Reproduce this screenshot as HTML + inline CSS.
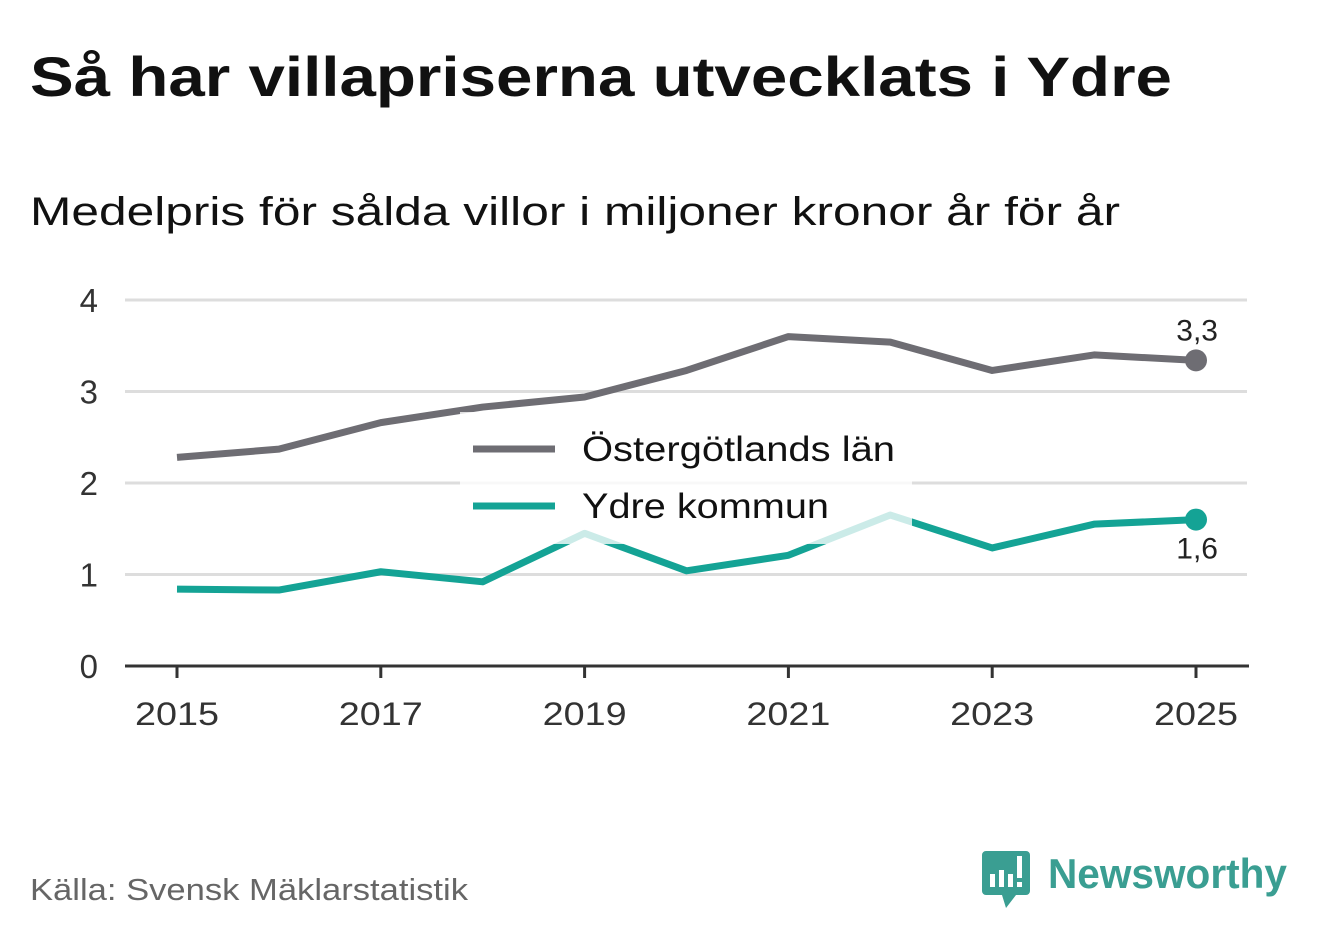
<!DOCTYPE html>
<html><head><meta charset="utf-8"><style>
body{margin:0;background:#fff;}
svg{display:block;font-family:"Liberation Sans",sans-serif;}
</style></head><body>
<svg id="chart" width="1322" height="939" viewBox="0 0 1322 939">
<text x="30" y="96" font-size="56" font-weight="bold" fill="#111" textLength="1142" lengthAdjust="spacingAndGlyphs">Så har villapriserna utvecklats i Ydre</text>
<text x="30" y="225" font-size="40" fill="#111" textLength="1090" lengthAdjust="spacingAndGlyphs">Medelpris för sålda villor i miljoner kronor år för år</text>
<g id="grid"></g>
<g id="series"></g>
<g id="legend"></g>
<text x="30" y="900" font-size="31" fill="#666" textLength="438" lengthAdjust="spacingAndGlyphs">Källa: Svensk Mäklarstatistik</text>
<g>
<path d="M986 851h40a4 4 0 0 1 4 4v36a4 4 0 0 1-4 4h-10l-10 13l-4-13h-16a4 4 0 0 1-4-4v-36a4 4 0 0 1 4-4z" fill="#3a9e92"/>
<rect x="990" y="874" width="5" height="13" fill="#fff"/><rect x="999" y="870" width="5" height="17" fill="#fff"/><rect x="1008" y="874" width="5" height="13" fill="#fff"/><rect x="1017" y="856" width="5" height="22" fill="#fff"/><rect x="1017" y="882" width="5" height="5" fill="#fff"/>
<text x="1048" y="888" font-size="42" font-weight="bold" fill="#3a9e92" textLength="239" lengthAdjust="spacingAndGlyphs">Newsworthy</text>
</g>
</svg>
<script>
const years=[2015,2016,2017,2018,2019,2020,2021,2022,2023,2024,2025];
const lanValues=[2.28,2.37,2.66,2.83,2.94,3.23,3.60,3.54,3.23,3.40,3.34];
const ydreValues=[0.84,0.83,1.03,0.92,1.45,1.04,1.21,1.65,1.29,1.55,1.60];
const yTicks=[0,1,2,3,4];
const xTickLabels=[2015,2017,2019,2021,2023,2025];
const lanLabel="3,3", ydreLabel="1,6";
const NS="http://www.w3.org/2000/svg";
const xs=v=>177+(v-2015)*101.9;
const ys=v=>666-v*91.5;
function mk(tag,attrs,parent,text){const e=document.createElementNS(NS,tag);for(const k in attrs)e.setAttribute(k,attrs[k]);if(text!==undefined)e.textContent=text;parent.appendChild(e);return e;}
const grid=document.getElementById('grid'),ser=document.getElementById('series'),leg=document.getElementById('legend');
yTicks.forEach(t=>{
 if(t>0){const l=mk('line',{x1:125,x2:1247,y1:ys(t),y2:ys(t),stroke:'#ddd','stroke-width':3},grid);
 
 }
 const tx=mk('text',{x:98,y:ys(t)+12,'font-size':33,fill:'#333','text-anchor':'end'},grid,t);
 
 
});
const ax=mk('line',{x1:125,x2:1249,y1:666,y2:666,stroke:'#333','stroke-width':3},grid);


xTickLabels.forEach(y=>{
 mk('line',{x1:xs(y),x2:xs(y),y1:666,y2:678,stroke:'#333','stroke-width':3},grid);
 const tx=mk('text',{x:xs(y),y:725,'font-size':32,fill:'#333','text-anchor':'middle',textLength:84,lengthAdjust:'spacingAndGlyphs'},grid,y);
 
 
});
function line(vals,color,name,label,dy){
 const d=vals.map((v,i)=>(i?'L':'M')+xs(years[i])+' '+ys(v)).join('');
 const p=mk('path',{d:d,fill:'none',stroke:color,'stroke-width':7,'stroke-linejoin':'round'},ser);
 
 
 const n=vals.length-1;
 const c=mk('circle',{cx:xs(years[n]),cy:ys(vals[n]),r:11,fill:color},ser);
 
 
 const t=mk('text',{x:xs(years[n])+22,y:ys(vals[n])+dy,'font-size':30,fill:'#222','text-anchor':'end'},ser,label);
 
 
}
line(lanValues,'#6e6d73','ostergotland',lanLabel,-20);
line(ydreValues,'#14a395','ydre',ydreLabel,39);
const bg=mk('rect',{x:460,y:412,width:452,height:132,fill:'#fff','fill-opacity':0.78},leg);


[['Östergötlands län','#6e6d73',449,313],['Ydre kommun','#14a395',506,247]].forEach(([n,c,y,w])=>{
 const g=mk('g',{},leg);
 
 
 mk('line',{x1:473,x2:555,y1:y,y2:y,stroke:c,'stroke-width':7},g);
 mk('text',{x:582,y:y+12,'font-size':35,fill:'#111',textLength:w,lengthAdjust:'spacingAndGlyphs'},g,n);
});
</script>
</body></html>
